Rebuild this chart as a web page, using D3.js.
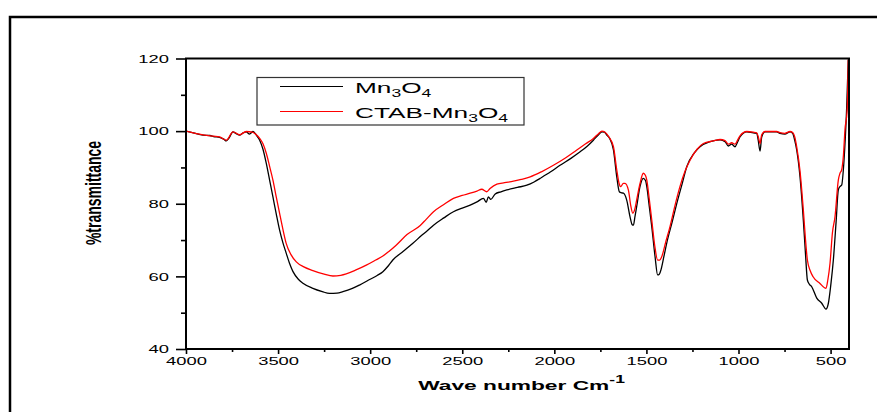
<!DOCTYPE html>
<html>
<head>
<meta charset="utf-8">
<script src="https://cdn.jsdelivr.net/npm/d3@7"></script>
<style>
  body { margin: 0; background: #fff; }
  text { font-family: "Liberation Sans", Arial, sans-serif; }
</style>
</head>
<body>
<div class="chart-container"></div>
<script>
// Data: wave number (cm-1) and % transmittance
const mn3o4Wn = [4000,3960,3908,3870,3850,3818,3795,3781,3765,3745,3727,3709,3690,3673,3655,3636,3618,3600,3582,3564,3546,3528,3510,3492,3474,3456,3438,3419,3390,3365,3311,3260,3221,3180,3148,3100,3058,3000,2960,2931,2900,2877,2820,2768,2720,2696,2656,2600,2548,2500,2457,2420,2385,2370,2358,2345,2321,2290,2258,2200,2149,2110,2077,2020,1969,1910,1860,1820,1788,1760,1742,1728,1715,1700,1679,1661,1647,1635,1625,1607,1589,1578,1571,1562,1553,1535,1517,1505,1498,1485,1471,1453,1439,1430,1421,1405,1390,1360,1335,1305,1281,1240,1209,1154,1100,1073,1055,1037,1019,1005,992,955,920,901,893,883,874,856,793,775,748,720,706,695,684,666,648,636,626,615,603,575,548,525,512,498,485,470,458,448,440,427,413,404];
const mn3o4T = [100.0,99.5,98.9,98.8,98.5,98.3,97.8,97.3,98.2,99.8,99.3,98.9,99.5,99.8,99.2,99.9,98.9,97.5,95.0,91.1,86.5,81.9,77.2,72.8,69.3,66.4,63.6,61.3,59.2,58.1,56.7,55.8,55.3,55.4,55.8,56.6,57.6,59.2,60.3,61.3,63.0,64.5,66.9,69.1,71.3,72.3,74.1,76.1,77.8,78.8,79.6,80.5,81.5,80.4,81.9,81.2,82.7,83.3,83.8,84.5,85.1,86.0,87.0,88.8,90.6,92.5,94.3,95.9,97.5,99.0,99.8,99.7,98.9,98.0,94.8,87.4,83.3,83.0,82.9,81.0,76.4,74.3,74.1,76.5,79.2,84.7,87.0,86.4,84.7,79.5,73.7,65.4,60.4,60.6,61.8,65.5,69.1,75.0,80.1,85.7,90.2,94.0,95.7,97.1,97.6,97.1,95.9,96.4,95.7,97.0,98.4,99.8,99.5,99.4,97.5,94.5,98.4,99.8,99.8,99.4,99.2,99.8,99.4,97.5,94.8,87.4,75.5,66.0,59.0,57.8,57.2,54.0,52.6,51.0,52.6,58.0,64.5,75.0,83.8,84.8,85.1,92.0,106.0,119.7];

const ctabWn = [4000,3950,3900,3850,3818,3781,3745,3709,3673,3640,3618,3600,3582,3564,3546,3528,3510,3492,3474,3456,3430,3401,3360,3311,3250,3202,3160,3130,3080,3021,2970,2931,2900,2859,2800,2728,2696,2656,2600,2548,2500,2457,2420,2394,2367,2349,2312,2270,2222,2180,2131,2070,2005,1940,1878,1830,1788,1760,1742,1725,1705,1679,1661,1648,1640,1625,1616,1598,1585,1574,1563,1553,1535,1517,1505,1498,1485,1471,1455,1439,1428,1417,1395,1372,1345,1318,1290,1263,1225,1191,1137,1100,1073,1055,1037,1019,1005,992,955,920,901,893,883,874,856,793,775,748,720,706,695,684,666,648,636,626,610,595,559,525,515,503,490,476,458,449,440,430,422,410,404];
const ctabT = [100.0,99.4,98.9,98.6,98.4,97.5,99.8,99.0,99.9,99.7,99.0,98.0,96.5,93.9,90.3,86.5,81.9,77.4,73.0,69.1,66.0,64.0,62.6,61.6,60.6,60.1,60.3,60.7,61.7,63.1,64.5,65.6,66.8,68.6,71.5,74.0,75.7,77.8,79.8,81.5,82.3,82.9,83.5,84.0,83.3,84.2,85.4,85.8,86.2,86.7,87.4,88.8,90.6,92.6,94.8,96.5,98.0,99.3,100.0,99.7,98.5,95.7,89.3,85.5,84.7,85.6,85.6,83.8,79.5,77.4,78.5,81.0,85.5,88.4,87.8,86.5,81.5,75.5,68.5,64.5,64.5,65.4,69.5,73.7,79.5,84.7,89.0,92.0,95.0,96.6,97.3,97.7,97.4,96.4,96.8,96.4,97.5,98.7,99.9,99.7,99.5,98.5,96.6,99.0,99.9,99.9,99.6,99.4,99.9,99.6,98.5,95.7,89.0,78.3,70.0,64.5,61.5,59.9,58.1,56.7,59.0,63.6,72.0,76.4,86.5,88.4,89.3,93.5,100.3,105.8,119.7];

const xTicks = [4000,3500,3000,2500,2000,1500,1000,500];
const xMinorTicks = [3750,3250,2750,2250,1750,1250,750];
const yTicks = [40,60,80,100,120];
const yMinorTicks = [50,70,90,110];

const seriesColors = ['#000000', '#ff0000'];

// text in the picture is stretched sideways
const stretch = 1.75;

const svg_width = 877;
const svg_height = 412;
const margin = {top:58.5, right:28, bottom:63, left:186};
const width = svg_width - margin.left - margin.right;
const height = svg_height - margin.top - margin.bottom;

const svg = d3.select('.chart-container').append('svg')
    .attr('width', svg_width).attr('height', svg_height);

// outer frame (only top/left visible)
svg.append('rect').attr('x', 10).attr('y', 17)
    .attr('width', 900).attr('height', 430)
    .attr('fill', 'none').attr('stroke', '#000').attr('stroke-width', 2.5);

const g = svg.append('g').attr('transform', `translate(${margin.left},${margin.top})`);

const xScale = d3.scaleLinear([4000, 400], [0, width]);
const yScale = d3.scaleLinear([40, 120], [height, 0]);

// axes
const xAxis = d3.axisBottom(xScale).tickValues(xTicks).tickFormat(d3.format('d'))
    .tickSizeInner(5).tickSizeOuter(0).tickPadding(4);
const xMinor = d3.axisBottom(xScale).tickValues(xMinorTicks).tickSizeInner(3).tickSizeOuter(0).tickFormat('');
const yAxis = d3.axisLeft(yScale).tickValues(yTicks).tickFormat(d3.format('d'))
    .tickSizeInner(10).tickSizeOuter(0);
const yMinor = d3.axisLeft(yScale).tickValues(yMinorTicks).tickSizeInner(5).tickSizeOuter(0).tickFormat('');

const xAxisDraw = g.append('g').attr('class', 'x axis')
    .attr('transform', `translate(0,${height})`).call(xAxis);
g.append('g').attr('class', 'x minor').attr('transform', `translate(0,${height})`).call(xMinor);
const yAxisDraw = g.append('g').attr('class', 'y axis').call(yAxis);
g.append('g').attr('class', 'y minor').call(yMinor);

g.selectAll('.axis line, .minor line').attr('stroke', '#000').attr('stroke-width', 1.6);
g.selectAll('.domain').remove();

xAxisDraw.selectAll('text')
    .attr('font-size', 10.5).attr('fill', '#000')
    .attr('transform', `scale(${stretch},1)`);
yAxisDraw.selectAll('text')
    .attr('x', 0).attr('dy', '0.36em')
    .attr('font-size', 10.5).attr('fill', '#000')
    .attr('transform', `translate(-17,0) scale(${stretch},1)`);

// curves
const line = d3.line()
    .x(d => xScale(d.wn))
    .y(d => yScale(d.t))
    .curve(d3.curveMonotoneX);

const mn3o4Data = mn3o4Wn.map((wn, i) => ({wn: wn, t: mn3o4T[i]}));
const ctabData = ctabWn.map((wn, i) => ({wn: wn, t: ctabT[i]}));

g.append('clipPath').attr('id', 'plot-clip')
    .append('rect').attr('width', width).attr('height', height);

const lines = g.append('g').attr('clip-path', 'url(#plot-clip)');
lines.append('path').datum(mn3o4Data)
    .attr('fill', 'none').attr('stroke', seriesColors[0]).attr('stroke-width', 1.3)
    .attr('d', line);
lines.append('path').datum(ctabData)
    .attr('fill', 'none').attr('stroke', seriesColors[1]).attr('stroke-width', 1.3)
    .attr('d', line);

// plot box
g.append('rect').attr('width', width).attr('height', height)
    .attr('fill', 'none').attr('stroke', '#000').attr('stroke-width', 2);

// legend
const legend = svg.append('g').attr('class', 'legend');
legend.append('rect').attr('x', 257).attr('y', 77.5).attr('width', 267).attr('height', 47.5)
    .attr('fill', '#fff').attr('stroke', '#333').attr('stroke-width', 1.2);

const rows = [{pre: '', y: 86.5}, {pre: 'CTAB-', y: 111.5}];
rows.forEach((r, i) => {
    legend.append('line').attr('x1', 280).attr('x2', 343).attr('y1', r.y).attr('y2', r.y)
        .attr('stroke', seriesColors[i]).attr('stroke-width', 1);
    const t = legend.append('text')
        .attr('transform', `translate(355,${r.y + 6}) scale(${stretch},1)`)
        .attr('font-size', 15).attr('fill', '#000');
    t.append('tspan').text(r.pre + 'Mn');
    t.append('tspan').text('3').attr('font-size', 10).attr('dy', 4);
    t.append('tspan').text('O').attr('dy', -4);
    t.append('tspan').text('4').attr('font-size', 10).attr('dy', 4);
});

// axis titles
const xTitle = svg.append('text')
    .attr('transform', `translate(${margin.left + width / 2 + 4},390) scale(${stretch},1)`)
    .attr('text-anchor', 'middle').attr('font-size', 13).attr('font-weight', 'bold');
xTitle.append('tspan').text('Wave number Cm');
xTitle.append('tspan').text('-1').attr('font-size', 10).attr('dy', -7);

svg.append('text')
    .attr('transform', `translate(101,193) scale(1.6,1) rotate(-90)`)
    .attr('text-anchor', 'middle').attr('font-size', 14).attr('font-weight', 'bold')
    .text('%transmittance');
</script>
</body>
</html>
